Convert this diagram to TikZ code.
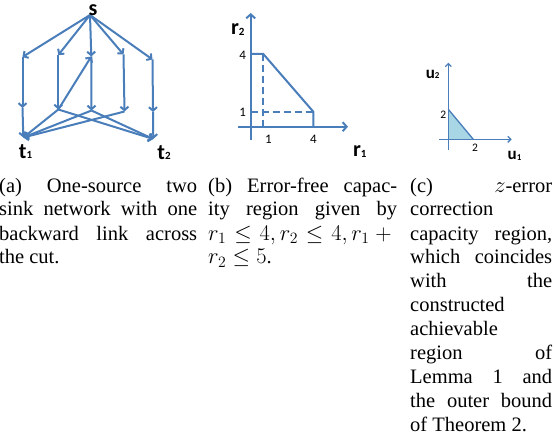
\RequirePackage{fix-cm}
\documentclass[tikz,border=0pt]{standalone}
\usepackage{fontspec}
\setmainfont{Liberation Serif}
\newfontfamily\calib{Carlito}
\usetikzlibrary{arrows.meta}
\definecolor{lb}{HTML}{4A7EBB}
\definecolor{fillb}{HTML}{A9D6E4}
\newcommand\sbs[1]{\raisebox{-0.5pt}{\fontsize{11}{11}\selectfont #1}}
\newcommand\sbsc[1]{\raisebox{-0.5pt}{\fontsize{9}{9}\selectfont #1}}
\newcommand\capmath[1]{{\fontsize{22.5}{24}\selectfont $#1$}}
\begin{document}
\begin{tikzpicture}[x=1pt,y=-1pt,
  netedge/.style={draw=lb, line width=2pt, -{Straight Barb[length=3.5pt,width=8pt]}},
  axisline/.style={draw=lb, line width=2pt, -{Straight Barb[length=4pt,width=9pt]}},
  axislinec/.style={draw=lb, line width=1.3pt, -{Straight Barb[length=3pt,width=6pt]}},
  regline/.style={draw=lb, line width=2pt},
  dashreg/.style={draw=lb, line width=2pt, dash pattern=on 7pt off 4pt},
  lab/.style={inner sep=0pt, font=\calib\bfseries\fontsize{22}{22}\selectfont},
  labc/.style={inner sep=0pt, font=\calib\bfseries\fontsize{17}{17}\selectfont},
  ticklab/.style={inner sep=0pt, font=\calib\fontsize{13}{13}\selectfont},
  ticklabc/.style={inner sep=0pt, font=\calib\fontsize{11.5}{11.5}\selectfont},
  captext/.style={anchor=base west, inner sep=0pt, align=justify,
    font=\fontsize{20.5}{24}\selectfont}]
\useasboundingbox (0,0) rectangle (555,444);

% ---------- (a) network ----------
\coordinate (s) at (90,15);
\coordinate (a1) at (22.5,57);
\coordinate (a2) at (58.3,55);
\coordinate (a3) at (91.3,56.5);
\coordinate (a4) at (123.5,54.5);
\coordinate (a5) at (152.5,59.5);
\coordinate (b1) at (22.5,108);
\coordinate (b2) at (58.3,109.5);
\coordinate (b3) at (91.5,110.5);
\coordinate (b4) at (124.5,111.5);
\coordinate (b5) at (153,112);
\coordinate (t1) at (23.3,137.5);
\coordinate (t2) at (153.3,139);

\foreach \n in {a1,a2,a3,a4,a5} \draw[netedge] (s) -- (\n);
\draw[netedge] (a1) -- (b1);
\draw[netedge] (b1) -- (t1);
\draw[netedge] (a2) -- (b2);
\draw[netedge] (b2) -- (a3);
\draw[netedge] (a3) -- (b3);
\draw[netedge] (a4) -- (b4);
\draw[netedge] (a5) -- (b5);
\draw[netedge] (b5) -- (t2);
\draw[netedge] (b2) -- (t1);
\draw[netedge] (b3) -- (t1);
\draw[netedge] (b4) -- (t1);
\draw[netedge] (b2) -- (t2);
\draw[netedge] (b3) -- (t2);

\node[lab] (sl) at (93,10) {s};
\node[lab, anchor=base] (t1l) at (25.5,158) {t\sbs{1}};
\node[lab, anchor=base] (t2l) at (164,159) {t\sbs{2}};

% ---------- (b) error-free region ----------
\coordinate (by0) at (250.7,140);
\coordinate (by1) at (250.7,13);
\coordinate (bx0) at (238,126.7);
\coordinate (bx1) at (348,126.7);
\draw[axisline] (by0) -- (by1);
\draw[axisline] (bx0) -- (bx1);
\coordinate (p1) at (250.7,54);
\coordinate (p2) at (263.3,54);
\coordinate (p3) at (313.3,111.7);
\coordinate (p4) at (313.3,126.7);
\coordinate (q1) at (263.3,126.7);
\coordinate (q2) at (250.7,111.7);
\draw[regline] (p1) -- (p2) -- (p3) -- (p4);
\draw[dashreg] (p2) -- (q1);
\draw[dashreg] (q2) -- (p3);
\node[lab, anchor=base] (r2l) at (237.7,35) {r\sbs{2}};
\node[lab, anchor=base] (r1l) at (359.7,156.7) {r\sbs{1}};
\node[ticklab] (ty4) at (242.7,55) {4};
\node[ticklab] (ty1) at (242.7,112.3) {1};
\node[ticklab] (tx1) at (268.3,139) {1};
\node[ticklab] (tx4) at (313.3,139) {4};

% ---------- (c) z-error region ----------
\coordinate (cy0) at (448.3,150);
\coordinate (cy1) at (448.3,62.7);
\coordinate (cx0) at (439.3,139.3);
\coordinate (cx1) at (511.7,139.3);
\coordinate (c1) at (448.3,109.3);
\coordinate (c2) at (473.3,139.3);
\coordinate (c0) at (448.3,139.3);
\fill[fillb] (c1) -- (c0) -- (c2) -- cycle;
\draw[axislinec] (cy0) -- (cy1);
\draw[axislinec] (cx0) -- (cx1);
\draw[draw=lb, line width=1.3pt] (c1) -- (c2);
\node[labc, anchor=base] (u2l) at (432.7,78.3) {u\sbsc{2}};
\node[labc, anchor=base] (u1l) at (514.5,160) {u\sbsc{1}};
\node[ticklabc] (tcy) at (443.3,114.7) {2};
\node[ticklabc] (tcx) at (475,148) {2};

% ---------- captions ----------
\node[captext, text width=198pt] (capa) at (-1,192)
  {(a) One-source two\linebreak sink network with one\linebreak backward link across\linebreak the cut.};
\node[captext, text width=189pt] (capb) at (208,192)
  {(b) Error-free capac-\linebreak ity region given by\linebreak \capmath{r_1\leq 4, r_2\leq 4, r_1+{}}\linebreak \capmath{r_2\leq 5}.};
\node[captext, text width=142pt] (capc) at (410,192)
  {(c) \capmath{z}-error\linebreak correction\linebreak capacity region,\linebreak which coincides\linebreak with the\linebreak constructed\linebreak achievable\linebreak region of\linebreak Lemma 1 and\linebreak the outer bound\linebreak of Theorem 2.};
\end{tikzpicture}
\end{document}
